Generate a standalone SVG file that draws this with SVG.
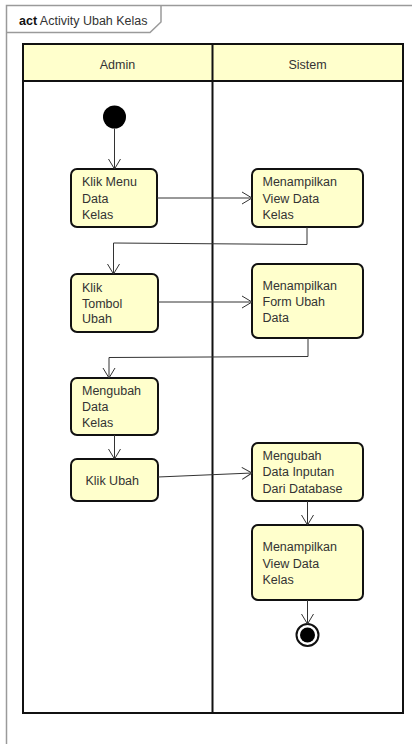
<svg xmlns="http://www.w3.org/2000/svg" width="412" height="744" viewBox="0 0 412 744">
<defs>
<marker id="arr" markerWidth="12" markerHeight="14" refX="11" refY="7" orient="auto" markerUnits="userSpaceOnUse">
<path d="M1,1 L11,7 L1,13" fill="none" stroke="#333" stroke-width="1"/>
</marker>
<style>
.frame{fill:none;stroke:#9a9a9a;stroke-width:1.5}
.lane{fill:none;stroke:#111;stroke-width:2}
.hdr{fill:#FFFFCC;stroke:#111;stroke-width:2}
.node{fill:#FFFFCC;stroke:#111;stroke-width:2}
.t{font-family:"Liberation Sans",Arial,sans-serif;font-size:12.5px;fill:#333}
.c{fill:none;stroke:#333;stroke-width:1;marker-end:url(#arr)}
</style>
</defs>
<rect width="412" height="744" fill="#fff"/>
<g id="frame">
<path class="frame" d="M6.5,746 L6.5,5.5 L414,5.5"/>
<path class="frame" d="M6.5,32.5 L150,32.5 L161,22 L161,5.5"/>
<text x="19" y="25" class="t" font-size="12.5"><tspan font-weight="bold" fill="#111">act</tspan> Activity Ubah Kelas</text>
</g>
<g id="lanes">
<rect class="hdr" x="23" y="44" width="380" height="37"/>
<rect class="lane" x="23" y="44" width="380" height="669"/>
<line class="lane" x1="212.5" y1="44" x2="212.5" y2="713"/>
<text class="t" x="117.5" y="68.5" text-anchor="middle">Admin</text>
<text class="t" x="307.5" y="68.5" text-anchor="middle">Sistem</text>
</g>
<g id="start"><circle cx="114.5" cy="117" r="11.5" fill="#000"/></g>
<g id="n1"><rect class="node" x="71" y="169" width="86" height="58" rx="6"/>
<text class="t" x="82" y="186">Klik Menu</text><text class="t" x="82" y="202.5">Data</text><text class="t" x="82" y="219">Kelas</text></g>
<g id="n2"><rect class="node" x="252" y="169" width="111" height="58" rx="6"/>
<text class="t" x="262.5" y="186">Menampilkan</text><text class="t" x="262.5" y="202.5">View Data</text><text class="t" x="262.5" y="219">Kelas</text></g>
<g id="n3"><rect class="node" x="71" y="274" width="87" height="58" rx="6"/>
<text class="t" x="82" y="291.5">Klik</text><text class="t" x="82" y="307.5">Tombol</text><text class="t" x="82" y="323">Ubah</text></g>
<g id="n4"><rect class="node" x="252" y="264" width="111" height="74" rx="6"/>
<text class="t" x="262.5" y="289.5">Menampilkan</text><text class="t" x="262.5" y="305.5">Form Ubah</text><text class="t" x="262.5" y="321.5">Data</text></g>
<g id="n5"><rect class="node" x="71" y="378" width="87" height="57" rx="6"/>
<text class="t" x="82" y="395">Mengubah</text><text class="t" x="82" y="411">Data</text><text class="t" x="82" y="427">Kelas</text></g>
<g id="n6"><rect class="node" x="71" y="459" width="87" height="42" rx="6"/>
<text class="t" x="85.5" y="485">Klik Ubah</text></g>
<g id="n7"><rect class="node" x="252" y="443" width="111" height="58" rx="6"/>
<text class="t" x="262.5" y="459.5">Mengubah</text><text class="t" x="262.5" y="476">Data Inputan</text><text class="t" x="262.5" y="492.5">Dari Database</text></g>
<g id="n8"><rect class="node" x="252" y="525" width="111" height="75" rx="6"/>
<text class="t" x="262.5" y="551">Menampilkan</text><text class="t" x="262.5" y="567.5">View Data</text><text class="t" x="262.5" y="583.5">Kelas</text></g>
<g id="end"><circle cx="307.5" cy="635" r="11" fill="#fff" stroke="#111" stroke-width="2"/><circle cx="307.5" cy="635" r="7.5" fill="#000"/></g>
<g id="connectors">
<path class="c" d="M114.5,128.5 L114.5,169"/>
<path class="c" d="M157,198 L252,198"/>
<path class="c" d="M307,227 L307,244.5 L113.5,243 L113.5,274"/>
<path class="c" d="M158,302 L252,302"/>
<path class="c" d="M308,338 L308,356.5 L109,357.5 L109,378"/>
<path class="c" d="M114.5,435 L114.5,459"/>
<path class="c" d="M158,477 L252,473"/>
<path class="c" d="M307.5,501 L307.5,525"/>
<path class="c" d="M307.5,600 L307.5,624"/>
</g>
</svg>
